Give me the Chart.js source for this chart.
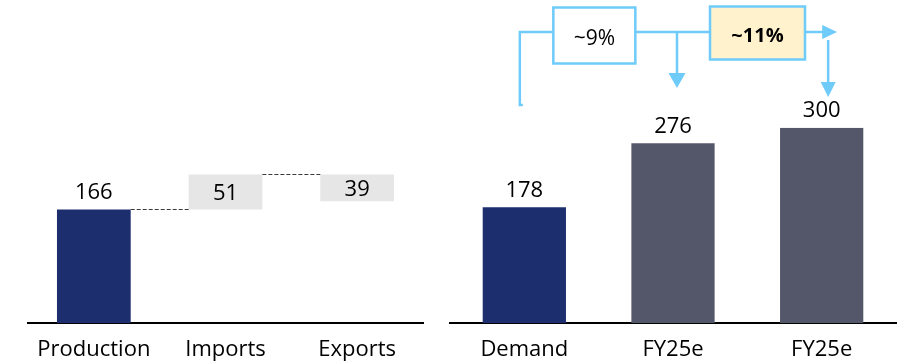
<!DOCTYPE html>
<html>
<head>
<meta charset="utf-8">
<script src="https://cdn.jsdelivr.net/npm/chart.js@4.4.1/dist/chart.umd.min.js"></script>
<style>
  html, body { margin: 0; padding: 0; background: #ffffff; }
  #wrap { position: relative; width: 904px; height: 362px; overflow: hidden; }
  #cLeft { position: absolute; left: 0; top: 0; }
  #cRight { position: absolute; left: 440px; top: 0; }
</style>
</head>
<body>
<div id="wrap">
  <canvas id="cLeft" width="440" height="376"></canvas>
  <canvas id="cRight" width="464" height="376"></canvas>
</div>
<script>
// Supply balance (waterfall) and demand outlook
const balanceCategories = ['Production', 'Imports', 'Exports'];
const balanceValues = [166, 51, 39];
const outlookCategories = ['Demand', 'FY25e', 'FY25e'];
const outlookValues = [178, 276, 300];
const growthLabels = ['~9%', '~11%'];

const NAVY = '#1c2e6e';
const SLATE = '#545769';
const STEP_GREY = '#e6e6e6';
const ARROW_BLUE = '#6ecbfa';
const CREAM = '#fff2cc';
const FONT = "'Open Sans', 'Noto Sans', sans-serif";

// Waterfall ranges: imports add on top of production, exports are taken off the top
const productionTop = balanceValues[0];
const importsTop = productionTop + balanceValues[1];
const exportsBottom = importsTop - balanceValues[2];
const balanceRanges = [[0, productionTop], [productionTop, importsTop], [exportsBottom, importsTop]];

const axisX = (labels) => ({
  type: 'category',
  labels: labels,
  grid: { display: false, drawTicks: false },
  border: { display: true, color: '#000000', width: 2 },
  ticks: {
    color: '#000000',
    font: { family: FONT, size: 22 },
    padding: 13,
    autoSkip: false,
    maxRotation: 0
  }
});

// Value labels: above the bar, or centred in the box for floating steps
const valueLabels = {
  id: 'valueLabels',
  afterDatasetsDraw(chart, args, opts) {
    const ctx = chart.ctx;
    const meta = chart.getDatasetMeta(0);
    ctx.save();
    ctx.font = '22px ' + FONT;
    ctx.fillStyle = '#000000';
    ctx.textAlign = 'center';
    ctx.textBaseline = 'alphabetic';
    meta.data.forEach((bar, i) => {
      const text = String(opts.values[i]);
      if (opts.inside && opts.inside[i]) {
        const mid = (bar.y + bar.base) / 2;
        ctx.fillText(text, bar.x, mid + 8);
      } else {
        ctx.fillText(text, bar.x, bar.y - 10.5);
      }
    });
    ctx.restore();
  }
};

// Dashed links between consecutive waterfall steps
const stepLinks = {
  id: 'stepLinks',
  afterDatasetsDraw(chart) {
    const ctx = chart.ctx;
    const bars = chart.getDatasetMeta(0).data;
    ctx.save();
    ctx.strokeStyle = '#3a3a3a';
    ctx.lineWidth = 1;
    ctx.setLineDash([4, 2]);
    for (let i = 0; i < bars.length - 1; i++) {
      const a = bars[i], b = bars[i + 1];
      const y = Math.round(a.y) + 0.5;
      ctx.beginPath();
      ctx.moveTo(a.x + a.width / 2, y);
      ctx.lineTo(b.x - b.width / 2, y);
      ctx.stroke();
    }
    ctx.restore();
  }
};

// Growth-rate call-outs with connector arrows above the outlook bars
const growthCallouts = {
  id: 'growthCallouts',
  afterDatasetsDraw(chart) {
    const ctx = chart.ctx;
    const bars = chart.getDatasetMeta(0).data;
    const cx = bars.map(b => b.x);
    const lineY = 32;
    ctx.save();
    ctx.strokeStyle = ARROW_BLUE;
    ctx.fillStyle = ARROW_BLUE;
    ctx.lineWidth = 2.5;
    ctx.lineJoin = 'miter';

    const box1 = { x: cx[0] + 29, y: 7.5, w: 82, h: 56 };
    const box2 = { x: cx[1] + 37, y: 6.5, w: 95, h: 53 };
    const leftX = cx[0] - 4.5;
    const dropX1 = cx[1] + 4;
    const dropX2 = cx[2] + 6.5;
    const arrowEnd = cx[2] + 15.5;

    // connector path
    ctx.beginPath();
    ctx.moveTo(leftX + 3, 105);
    ctx.lineTo(leftX, 105);
    ctx.lineTo(leftX, lineY);
    ctx.lineTo(box1.x, lineY);
    ctx.moveTo(box1.x + box1.w, lineY);
    ctx.lineTo(box2.x, lineY);
    ctx.moveTo(dropX1, lineY);
    ctx.lineTo(dropX1, 74);
    ctx.moveTo(box2.x + box2.w, lineY);
    ctx.lineTo(arrowEnd - 14, lineY);
    ctx.moveTo(dropX2, 40);
    ctx.lineTo(dropX2, 83);
    ctx.stroke();

    // arrow heads
    const head = (pts) => {
      ctx.beginPath();
      ctx.moveTo(pts[0][0], pts[0][1]);
      ctx.lineTo(pts[1][0], pts[1][1]);
      ctx.lineTo(pts[2][0], pts[2][1]);
      ctx.closePath();
      ctx.fill();
    };
    head([[dropX1 - 8.5, 73], [dropX1 + 8.5, 73], [dropX1, 88]]);
    head([[dropX2 - 7.5, 82], [dropX2 + 7.5, 82], [dropX2, 97]]);
    head([[arrowEnd - 15, lineY - 7], [arrowEnd - 15, lineY + 7], [arrowEnd, lineY]]);

    // boxes
    ctx.fillStyle = '#ffffff';
    ctx.fillRect(box1.x, box1.y, box1.w, box1.h);
    ctx.strokeRect(box1.x, box1.y, box1.w, box1.h);
    ctx.fillStyle = CREAM;
    ctx.fillRect(box2.x, box2.y, box2.w, box2.h);
    ctx.strokeRect(box2.x, box2.y, box2.w, box2.h);

    ctx.fillStyle = '#000000';
    ctx.textAlign = 'center';
    ctx.textBaseline = 'alphabetic';
    ctx.font = '21px ' + FONT;
    ctx.fillText(growthLabels[0], box1.x + box1.w / 2, 44.5);
    ctx.font = 'bold 20px ' + FONT;
    ctx.fillText(growthLabels[1], box2.x + box2.w / 2, 41.5);
    ctx.restore();
  }
};

new Chart(document.getElementById('cLeft'), {
  type: 'bar',
  data: {
    labels: balanceCategories,
    datasets: [{
      data: balanceRanges,
      backgroundColor: [NAVY, STEP_GREY, STEP_GREY],
      borderWidth: 0,
      categoryPercentage: 1,
      barPercentage: 0.56
    }]
  },
  options: {
    responsive: false,
    animation: false,
    layout: { padding: { left: 28, right: 17, top: 117.5, bottom: 0.3 } },
    plugins: {
      legend: { display: false },
      tooltip: { enabled: false },
      valueLabels: { values: balanceValues, inside: [false, true, true] }
    },
    scales: {
      x: axisX(balanceCategories),
      y: { display: false, min: 0, max: 300 }
    }
  },
  plugins: [stepLinks, valueLabels]
});

new Chart(document.getElementById('cRight'), {
  type: 'bar',
  data: {
    labels: outlookCategories,
    datasets: [{
      data: outlookValues,
      backgroundColor: [NAVY, SLATE, SLATE],
      borderWidth: 0,
      categoryPercentage: 1,
      barPercentage: 0.56
    }]
  },
  options: {
    responsive: false,
    animation: false,
    layout: { padding: { left: 10, right: 8, top: 127.7, bottom: 0.3 } },
    plugins: {
      legend: { display: false },
      tooltip: { enabled: false },
      valueLabels: { values: outlookValues }
    },
    scales: {
      x: axisX(outlookCategories),
      y: { display: false, min: 0, max: 300 }
    }
  },
  plugins: [valueLabels, growthCallouts]
});
</script>
</body>
</html>
